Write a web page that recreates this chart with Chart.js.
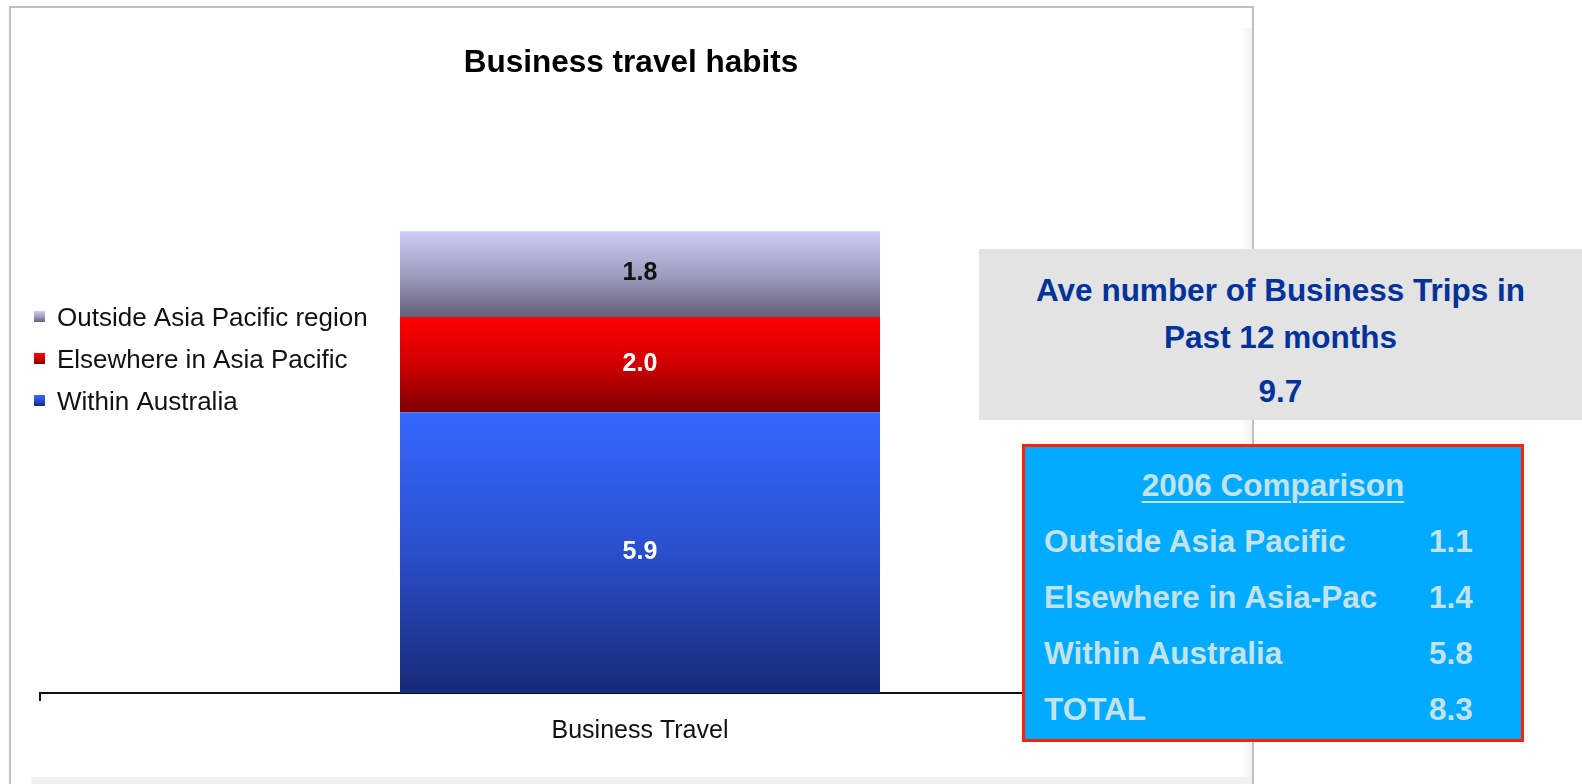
<!DOCTYPE html>
<html>
<head>
<meta charset="utf-8">
<script src="https://cdn.jsdelivr.net/npm/chart.js@4/dist/chart.umd.min.js"></script>
<style>
  html, body { margin: 0; padding: 0; background: #fff; overflow: hidden; }
  body { width: 1582px; height: 784px; position: relative; font-family: "Liberation Sans", Arial, sans-serif; }
  #frame { position: absolute; left: 9px; top: 6px; width: 1241px; height: 790px;
           border: 2px solid #c0c0c0; border-bottom: none; background: #fff; }
  #frame .shade-r { position: absolute; right: 0; top: 20px; width: 12px; bottom: 0;
           background: linear-gradient(to right, rgba(0,0,0,0), rgba(0,0,0,0.05)); }
  #frame .shade-b { position: absolute; left: 20px; right: 0; top: 769px; height: 30px; background: #f1f1f1; }
  #wrap { position: absolute; left: 0; top: 0; width: 1582px; height: 784px; }
  .box { position: absolute; box-sizing: border-box; font-weight: bold; font-size: 31.5px; }
  .box div { position: absolute; line-height: 36px; white-space: nowrap; }
  #trips { left: 979px; top: 249px; width: 603px; height: 171px; background: #e3e3e3; color: #003399; }
  #trips div { left: 0; right: 0; text-align: center; }
  #cmp { left: 1022px; top: 444px; width: 502px; height: 298px; background: #00aaff;
         border: 3px solid #ff2200; color: #c3e3ea; }
</style>
</head>
<body>
<div id="frame"><div class="shade-r"></div><div class="shade-b"></div></div>
<div id="wrap"><canvas id="travelChart"></canvas></div>

<div class="box" id="trips">
  <div style="top:23px">Ave number of Business Trips in</div>
  <div style="top:70px">Past 12 months</div>
  <div style="top:124px">9.7</div>
</div>

<div class="box" id="cmp"></div>

<script>
// data
const categories = ['Business Travel'];
const seriesNames = ['Within Australia', 'Elsewhere in Asia Pacific', 'Outside Asia Pacific region'];
const withinAustralia = [5.9];
const elsewhereAsiaPac = [2.0];
const outsideAsiaPac = [1.8];
const totalTrips = 9.7;

// 2006 comparison table
const cmpLabels = ['Outside Asia Pacific', 'Elsewhere in Asia-Pac', 'Within Australia', 'TOTAL'];
const cmpValues = [1.1, 1.4, 5.8, 8.3];

// gradient colours per series (top, middle, bottom)
const gradColors = [
  ['#3568ff', '#2a4fcc', '#172a78'],
  ['#ff0000', '#d00000', '#7c0000'],
  ['#ccccf8', '#9e9ec0', '#626278']
];
const labelColors = ['#ffffff', '#ffffff', '#111111'];

const seriesValues = [withinAustralia, elsewhereAsiaPac, outsideAsiaPac];

// build comparison box
const cmp = document.getElementById('cmp');
const head = document.createElement('div');
head.textContent = '2006 Comparison';
head.style.cssText = 'left:0;right:0;text-align:center;top:20px;text-decoration:underline;text-decoration-thickness:2px;text-underline-offset:5px;';
cmp.appendChild(head);
cmpLabels.forEach((lbl, i) => {
  const a = document.createElement('div');
  a.textContent = lbl;
  a.style.cssText = `left:19px;top:${76 + i * 56}px;`;
  const b = document.createElement('div');
  b.textContent = cmpValues[i].toFixed(1);
  b.style.cssText = `left:404px;top:${76 + i * 56}px;`;
  cmp.appendChild(a);
  cmp.appendChild(b);
});

function addStops(g, cols) {
  g.addColorStop(0, cols[0]);
  g.addColorStop(0.5, cols[1]);
  g.addColorStop(1, cols[2]);
  return g;
}

function segmentGradient(ctx, chart, dsIndex) {
  const y = chart.scales.y;
  if (!y || !chart.chartArea) return gradColors[dsIndex][0];
  let start = 0;
  for (let i = 0; i < dsIndex; i++) start += seriesValues[i][0];
  const end = start + seriesValues[dsIndex][0];
  const top = y.getPixelForValue(end);
  const bottom = y.getPixelForValue(start);
  if (!isFinite(top) || !isFinite(bottom)) return gradColors[dsIndex][0];
  return addStops(ctx.createLinearGradient(0, top, 0, bottom), gradColors[dsIndex]);
}

// value labels inside the segments + legend drawn over the plot
const overlayPlugin = {
  id: 'overlay',
  afterLayout(chart) {
    // title in the original sits a little left of the plot centre
    chart.titleBlock.right -= 18;
  },
  afterDatasetsDraw(chart) {
    const ctx = chart.ctx;
    ctx.save();
    ctx.font = 'bold 25px "Liberation Sans", Arial, sans-serif';
    ctx.textAlign = 'center';
    ctx.textBaseline = 'alphabetic';
    chart.data.datasets.forEach((ds, i) => {
      chart.getDatasetMeta(i).data.forEach((bar, j) => {
        const cy = (bar.y + bar.base) / 2;
        ctx.fillStyle = labelColors[i];
        ctx.fillText(ds.data[j].toFixed(1), bar.x, cy + 6);
      });
    });

    // legend, reversed order
    ctx.font = '26px "Liberation Sans", Arial, sans-serif';
    ctx.textAlign = 'left';
    const rows = [2, 1, 0];
    rows.forEach((dsIndex, r) => {
      const base = 326 + r * 42;
      const bx = 34, by = base - 15, s = 11;
      ctx.fillStyle = addStops(ctx.createLinearGradient(0, by, 0, by + s), gradColors[dsIndex]);
      ctx.fillRect(bx, by, s, s);
      ctx.fillStyle = '#111';
      ctx.fillText(chart.data.datasets[dsIndex].label, 57, base);
    });
    ctx.restore();
  }
};

const ctx = document.getElementById('travelChart').getContext('2d');
const chart = new Chart(ctx, {
  type: 'bar',
  data: {
    labels: categories,
    datasets: seriesValues.map((vals, i) => ({
      label: seriesNames[i],
      data: vals,
      backgroundColor: (c) => segmentGradient(c.chart.ctx, c.chart, i),
      borderWidth: 0,
      categoryPercentage: 1,
      barPercentage: 0.4
    }))
  },
  options: {
    responsive: true,
    maintainAspectRatio: false,
    animation: false,
    layout: { padding: { left: 40, right: 342, top: 44, bottom: 23 } },
    plugins: {
      legend: { display: false },
      tooltip: { enabled: false },
      title: {
        display: true,
        text: 'Business travel habits',
        color: '#000',
        font: { family: '"Liberation Sans", Arial, sans-serif', size: 31.5, weight: 'bold' },
        padding: { top: 0, bottom: 40 }
      }
    },
    scales: {
      x: {
        stacked: true,
        border: { display: true, color: '#111', width: 2 },
        grid: { display: true, drawOnChartArea: false, drawTicks: true, tickLength: 8, color: '#111', lineWidth: 2 },
        ticks: { color: '#111', padding: 15, font: { family: '"Liberation Sans", Arial, sans-serif', size: 25 } }
      },
      y: {
        stacked: true,
        display: false,
        min: 0,
        max: 12
      }
    }
  },
  plugins: [overlayPlugin]
});
chart.update();
</script>
</body>
</html>
